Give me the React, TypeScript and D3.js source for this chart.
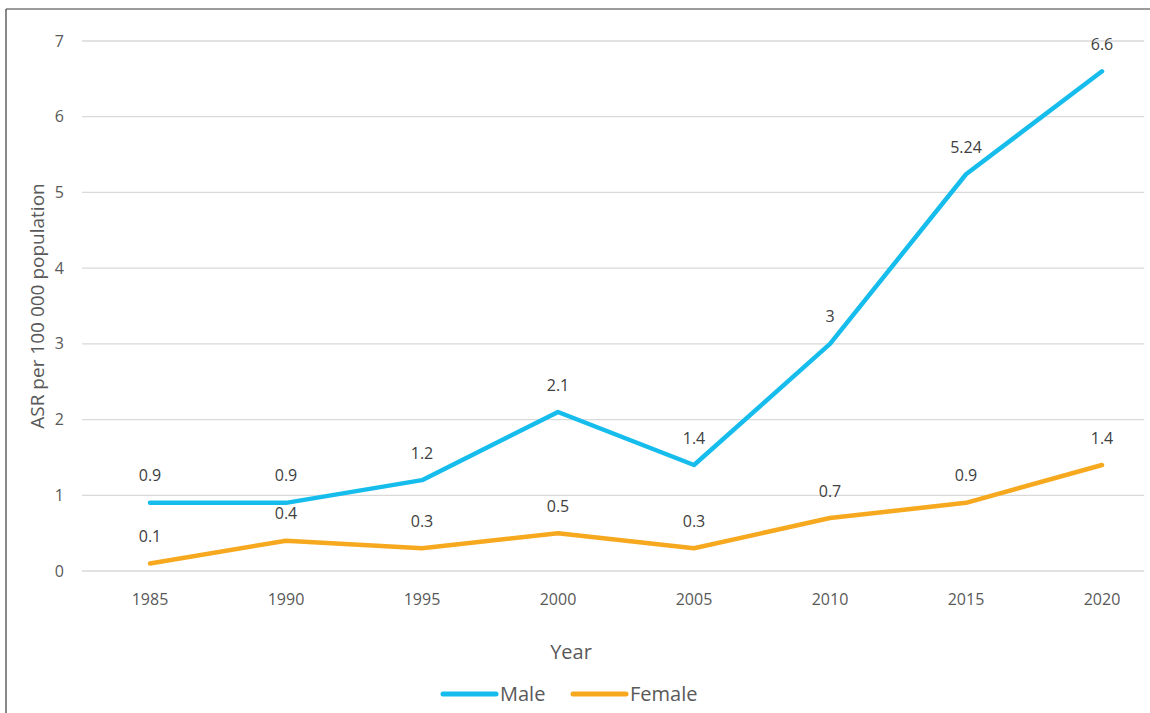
import React from "react";
import * as d3 from "d3";

const years = ["1985", "1990", "1995", "2000", "2005", "2010", "2015", "2020"];
const maleValues = [0.9, 0.9, 1.2, 2.1, 1.4, 3, 5.24, 6.6];
const femaleValues = [0.1, 0.4, 0.3, 0.5, 0.3, 0.7, 0.9, 1.4];
const yTicks = [0, 1, 2, 3, 4, 5, 6, 7];
const seriesNames = ["Male", "Female"];
const seriesColors = ["#16BDEC", "#F6A91E"];

const W = 1150;
const H = 713;
const FONT = "'Open Sans', 'Noto Sans', sans-serif";

export default function App() {
  const x = d3.scalePoint<string>().domain(years).range([150, 1102]);
  const y = d3.scaleLinear().domain([0, 7]).range([571, 41]);
  const gridX0 = 82;
  const gridX1 = 1144;

  const series = [maleValues, femaleValues];
  const line = d3
    .line<number>()
    .x((_, i) => x(years[i]) as number)
    .y((d) => y(d));

  return (
    <svg
      width={W}
      height={H}
      style={{ position: "absolute", left: 0, top: 0, background: "#fff" }}
      fontFamily={FONT}
    >
      {/* outer frame */}
      <line x1={6} x2={W} y1={9} y2={9} stroke="#3a3a3a" strokeWidth={1.2} />
      <line x1={6} x2={6} y1={9} y2={H} stroke="#3a3a3a" strokeWidth={1.2} />

      {/* gridlines and y ticks */}
      {yTicks.map((t) => (
        <g key={t}>
          <line x1={gridX0} x2={gridX1} y1={y(t)} y2={y(t)} stroke="#d9d9d9" strokeWidth={1.3} />
          <text x={64} y={y(t)} dy="0.35em" textAnchor="end" fontSize={16} fill="#595959">
            {t}
          </text>
        </g>
      ))}

      {/* x tick labels */}
      {years.map((yr) => (
        <text key={yr} x={x(yr)} y={599} dy="0.35em" textAnchor="middle" fontSize={16} fill="#595959">
          {yr}
        </text>
      ))}

      {/* axis titles */}
      <text
        transform={`translate(37,306) rotate(-90)`}
        textAnchor="middle"
        dy="0.35em"
        fontSize={19}
        fill="#595959"
      >
        ASR per 100 000 population
      </text>
      <text x={571} y={652} dy="0.35em" textAnchor="middle" fontSize={20} fill="#595959">
        Year
      </text>

      {/* lines */}
      {series.map((vals, si) => (
        <path
          key={si}
          d={line(vals) || ""}
          fill="none"
          stroke={seriesColors[si]}
          strokeWidth={4.5}
          strokeLinejoin="round"
          strokeLinecap="round"
        />
      ))}

      {/* data labels */}
      {series.map((vals, si) =>
        vals.map((v, i) => (
          <text
            key={`${si}-${i}`}
            x={x(years[i])}
            y={y(v) - 27}
            dy="0.35em"
            textAnchor="middle"
            fontSize={16}
            fill="#404040"
          >
            {String(v)}
          </text>
        ))
      )}

      {/* legend */}
      {seriesNames.map((name, i) => {
        const lx = i === 0 ? 443 : 573;
        return (
          <g key={name}>
            <line x1={lx} x2={lx + 53} y1={694} y2={694} stroke={seriesColors[i]} strokeWidth={5} strokeLinecap="round" />
            <text x={lx + 57} y={694} dy="0.35em" fontSize={20} fill="#595959">
              {name}
            </text>
          </g>
        );
      })}
    </svg>
  );
}
